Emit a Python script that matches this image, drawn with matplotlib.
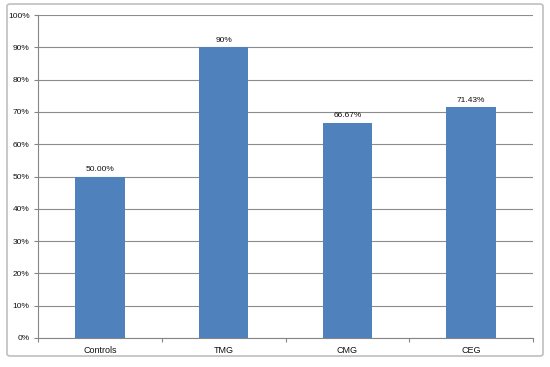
import matplotlib
matplotlib.use("Agg")
import matplotlib.pyplot as plt
from matplotlib.patches import FancyBboxPatch
from matplotlib.ticker import FixedLocator, PercentFormatter

categories = ["Controls", "TMG", "CMG", "CEG"]
values = [50.00, 90.0, 66.67, 71.43]
labels = ["50.00%", "90%", "66.67%", "71.43%"]

fig = plt.figure(figsize=(5.5, 3.67), dpi=100)
fig.patch.set_facecolor("white")
border = FancyBboxPatch((7/550, 1-356/367), 536/550, 352/367, boxstyle="round,pad=0,rounding_size=0.006",
                        transform=fig.transFigure, facecolor="none", edgecolor="#BFBFBF", linewidth=1.2,
                        zorder=-1)
fig.patches.append(border)

ax = fig.add_axes([38/550, 1-338/367, 495/550, 323/367])
ax.set_facecolor("none")
x = list(range(len(categories)))
ax.bar(x, values, width=0.4, color="#4F81BD", zorder=3)
for xi, v, lab in zip(x, values, labels):
    ax.text(xi, v + 1.0, lab, ha="center", va="bottom", fontsize=6, family="Liberation Sans", color="#111111")

ax.set_xlim(-0.5, len(categories) - 0.5)
ax.set_ylim(0, 100)
ax.set_yticks(range(0, 101, 10))
ax.yaxis.set_major_formatter(PercentFormatter(decimals=0))
ax.set_xticks(x)
ax.set_xticklabels(categories)
ax.xaxis.set_minor_locator(FixedLocator([i - 0.5 for i in range(len(categories) + 1)]))
ax.tick_params(axis="x", which="major", length=0, pad=6, labelsize=6.5, labelcolor="#111111")
ax.tick_params(axis="x", which="minor", length=3, color="#868686", width=0.8)
ax.tick_params(axis="y", length=3, color="#868686", width=0.8, labelsize=6, labelcolor="#111111", pad=3)
for lab in ax.get_xticklabels() + ax.get_yticklabels():
    lab.set_family("Liberation Sans")
ax.grid(axis="y", color="#8C8C8C", linewidth=0.8, zorder=0)
ax.set_axisbelow(True)
for s in ["top", "right"]:
    ax.spines[s].set_visible(False)
for s in ["left", "bottom"]:
    ax.spines[s].set_color("#868686")
    ax.spines[s].set_linewidth(0.8)

fig.savefig("out.png", dpi=100, facecolor="white")
